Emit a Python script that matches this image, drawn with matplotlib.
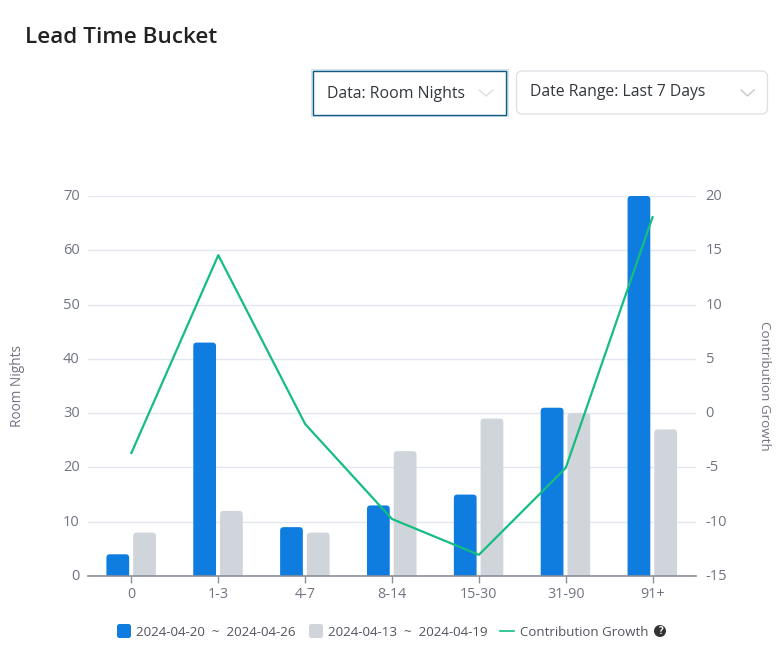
import matplotlib
matplotlib.use('Agg')
import matplotlib.pyplot as plt
from matplotlib.patches import FancyBboxPatch, Rectangle
from matplotlib.transforms import ScaledTranslation

plt.rcParams['font.family'] = ['Open Sans', 'DejaVu Sans']
plt.rcParams['axes.unicode_minus'] = False

buckets = ['0', '1-3', '4-7', '8-14', '15-30', '31-90', '91+']
current = [4, 43, 9, 13, 15, 31, 70]
previous = [8, 12, 8, 23, 29, 30, 27]
growth = [-3.67, 14.55, -1.0, -9.75, -13.05, -5.05, 18.05]
left_ticks = [0, 10, 20, 30, 40, 50, 60, 70]
right_ticks = [-15, -10, -5, 0, 5, 10, 15, 20]

W, H = 778, 657
BLUE = '#0f7de0'
GREY = '#cfd5db'
GREEN = '#14bd80'
TICK = '#6f7480'

fig = plt.figure(figsize=(W / 100, H / 100), dpi=100)

# page layer in pixel coordinates
page = fig.add_axes([0, 0, 1, 1])
page.set_xlim(0, W)
page.set_ylim(H, 0)
page.axis('off')

page.text(25, 37.5, 'Lead Time Bucket', fontsize=16.2, fontweight='semibold',
          color='#222222', va='center')

page.add_patch(Rectangle((311, 69), 198, 48, fc='#d3e2ec', ec='none'))
page.add_patch(Rectangle((313, 71), 193, 44, fc='white', ec='#0f5c85', lw=1))
page.text(327, 93.5, 'Data: Room Nights', fontsize=11.4, color='#33363d', va='center')
page.plot([479, 486, 493], [90, 96, 90], color='#dcdfe3', lw=1)

page.add_patch(FancyBboxPatch((516.5, 71), 251, 43,
                              boxstyle='round,pad=0,rounding_size=6',
                              fc='white', ec='#dddfe3', lw=0.9))
page.text(530, 91.5, 'Date Range: Last 7 Days', fontsize=11.3, color='#33363d', va='center')
page.plot([741, 747.5, 754], [90, 96, 90], color='#c4c8cd', lw=1)

# chart
ax = fig.add_axes([88 / W, 1 - 576 / H, 608 / W, 380 / H])
ax.patch.set_alpha(0)
ax.set_xlim(-0.5, 6.5)
ax.set_ylim(0, 70)
ax2 = ax.twinx()
ax2.patch.set_alpha(0)
ax2.set_ylim(-15, 20)

bar_w = 0.262
aspect = (70 / 380) / (7 / 608)


def rounded_bars(offset, values, color):
    for i, v in enumerate(values):
        box = FancyBboxPatch((i + offset - bar_w / 2, -3), bar_w, v + 3,
                             boxstyle='round,pad=0,rounding_size=0.04',
                             mutation_aspect=aspect, fc=color, ec='none', zorder=2)
        ax.add_patch(box)


rounded_bars(-0.157, current, BLUE)
rounded_bars(0.151, previous, GREY)

ax.set_yticks(left_ticks)
ax.set_xticks(range(len(buckets)))
ax.set_xticklabels(buckets)
ax.grid(axis='y', color='#e4e6ef', lw=1)
ax.set_axisbelow(True)
ax.tick_params(axis='x', length=5, width=1, color='#8a8f99', labelcolor=TICK,
               labelsize=10.3, pad=3)
ax.tick_params(axis='y', length=0, labelcolor=TICK, labelsize=10.5, pad=6)
for s in ['top', 'left', 'right']:
    ax.spines[s].set_visible(False)
    ax2.spines[s].set_visible(False)
ax2.spines['bottom'].set_visible(False)
ax.spines['bottom'].set_color('#8a8f99')
ax.spines['bottom'].set_linewidth(1.2)

ax2.plot(range(len(buckets)), growth, color=GREEN, lw=1.6, zorder=3)
ax2.set_yticks(right_ticks)
ax2.tick_params(axis='y', length=0, labelcolor=TICK, labelsize=10.5, pad=7)

# tick labels sit a little above the gridline
nudge = ScaledTranslation(0, 1.5 / 100, fig.dpi_scale_trans)
for label in ax.get_yticklabels() + ax2.get_yticklabels():
    label.set_transform(label.get_transform() + nudge)

page.text(18, 386, 'Room Nights', rotation=90, fontsize=9.8, color=TICK,
          ha='center', va='center')
page.text(765, 386, 'Contribution Growth', rotation=-90, fontsize=9.6, color=TICK,
          ha='center', va='center')

# legend
for x, color in [(117, BLUE), (309, GREY)]:
    page.add_patch(FancyBboxPatch((x, 624), 14, 14,
                                  boxstyle='round,pad=0,rounding_size=2.5',
                                  fc=color, ec='none'))
page.plot([500, 514], [631, 631], color=GREEN, lw=1.2)
page.text(136, 632, '2024-04-20  ~  2024-04-26', fontsize=9.65, color='#50545c', va='center')
page.text(328, 632, '2024-04-13  ~  2024-04-19', fontsize=9.65, color='#50545c', va='center')
page.text(520, 632, 'Contribution Growth', fontsize=9.55, color='#50545c', va='center')
page.add_patch(plt.Circle((660, 631), 6, fc='#333333', ec='none'))
page.text(660, 631, '?', color='white', fontsize=7, fontweight='bold',
          ha='center', va='center')

fig.savefig('out.png', dpi=100)
